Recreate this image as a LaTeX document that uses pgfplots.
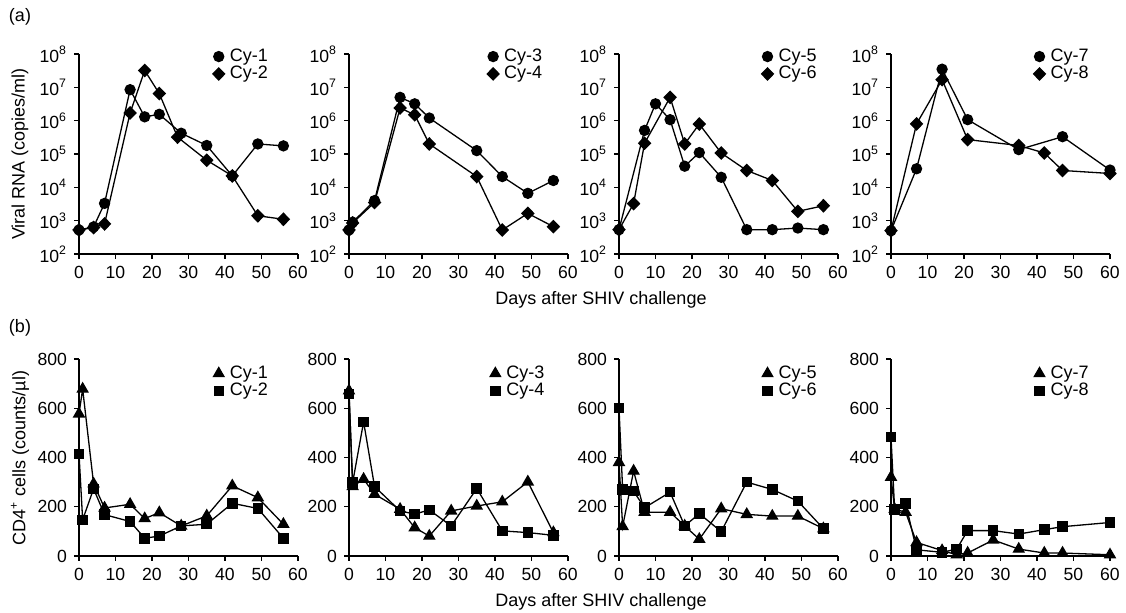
\documentclass[border=0pt]{standalone}
\usepackage{fontspec}
\setmainfont{Liberation Sans}
\usepackage{pgfplots}
\pgfplotsset{compat=1.18}

\newcommand{\lblfont}{\fontsize{9}{10.5}\selectfont}
\newcommand{\tckfont}{\fontsize{8.8}{10}\selectfont}

\pgfplotsset{
  every axis/.append style={
    scale only axis, width=109.5pt,
    axis lines*=left, xmin=0, xmax=60, xtick={0,10,...,60},
    tick align=outside, major tick length=2.5pt,
    axis line style={line width=0.6pt},
    tick style={line width=0.6pt, black},
    clip=false,
    tick label style={font=\tckfont},
    legend cell align=left,
    legend style={draw=none, fill=none, font=\lblfont, anchor=north west,
      row sep=-1.5pt, nodes={inner sep=1.2pt}},
  },
  /pgf/number format/assume math mode=true,
  every axis plot/.append style={black, line width=0.65pt},
  legend image code/.code={\draw[#1] plot coordinates {(0.1cm,0cm)}; \path (0cm,0cm) (0.24cm,0cm);},
  mkcirc/.style={mark=*, mark size=2.5pt},
  mkdiam/.style={mark=diamond*, mark size=3pt, mark options={xscale=1.3}},
  mktri/.style={mark=triangle*, mark size=3pt},
  mksq/.style={mark=square*, mark size=2.3pt},
  vrl/.style={height=100pt, ymin=1e2, ymax=1e8,
    ytick={1e2,1e3,1e4,1e5,1e6,1e7,1e8},
    yticklabels={10\textsuperscript{2},10\textsuperscript{3},10\textsuperscript{4},10\textsuperscript{5},10\textsuperscript{6},10\textsuperscript{7},10\textsuperscript{8}},
    yminorticks=false},
  cdf/.style={height=98.5pt, ymin=0, ymax=800, ytick={0,200,...,800}},
}

\begin{document}
\begin{tikzpicture}
\path[use as bounding box] (0pt,0pt) rectangle (563pt,306.5pt);

% (a) viral RNA
\begin{axis}[ymode=log, vrl, at={(39.5pt,179.5pt)}, anchor=south west, legend style={at={(0.58,1.06)}}]
\addplot[mkcirc] coordinates {(0,525)(4,650)(7,3300)(14,8.5e6)(18,1.3e6)(22,1.55e6)(28,4.2e5)(35,1.8e5)(42,2.2e4)(49,2e5)(56,1.75e5)};
\addlegendentry{Cy-1}
\addplot[mkdiam] coordinates {(0,525)(4,620)(7,800)(14,1.7e6)(18,3.2e7)(22,6.5e6)(27,3.2e5)(35,6.5e4)(42,2.2e4)(49,1400)(56,1100)};
\addlegendentry{Cy-2}
\end{axis}

\begin{axis}[ymode=log, vrl, at={(174.5pt,179.5pt)}, anchor=south west, legend style={at={(0.6,1.06)}}]
\addplot[mkcirc] coordinates {(0,525)(1,900)(7,4000)(14,5e6)(18,3.2e6)(22,1.2e6)(35,1.26e5)(42,2.1e4)(49,6600)(56,1.6e4)};
\addlegendentry{Cy-3}
\addplot[mkdiam] coordinates {(0,525)(1,850)(7,3500)(14,2.4e6)(18,1.5e6)(22,2e5)(35,2.1e4)(42,525)(49,1650)(56,660)};
\addlegendentry{Cy-4}
\end{axis}

\begin{axis}[ymode=log, vrl, at={(309.5pt,179.5pt)}, anchor=south west, legend style={at={(0.62,1.06)}}]
\addplot[mkcirc] coordinates {(0,537)(7,5.1e5)(10,3.2e6)(14,1.07e6)(18,4.3e4)(22,1.1e5)(28,2e4)(35,537)(42,537)(49,600)(56,537)};
\addlegendentry{Cy-5}
\addplot[mkdiam] coordinates {(0,537)(4,3240)(7,2.1e5)(14,5e6)(18,2e5)(22,7.9e5)(28,1.07e5)(35,3.2e4)(42,1.6e4)(49,1900)(56,2800)};
\addlegendentry{Cy-6}
\end{axis}

\begin{axis}[ymode=log, vrl, at={(445.5pt,179.5pt)}, anchor=south west, legend style={at={(0.62,1.06)}}]
\addplot[mkcirc] coordinates {(0,500)(7,3.6e4)(14,3.5e7)(21,1.07e6)(35,1.35e5)(47,3.3e5)(60,3.3e4)};
\addlegendentry{Cy-7}
\addplot[mkdiam] coordinates {(0,500)(7,8e5)(14,1.7e7)(21,2.7e5)(35,1.8e5)(42,1.07e5)(47,3.2e4)(60,2.6e4)};
\addlegendentry{Cy-8}
\end{axis}

% (b) CD4+ cells
\begin{axis}[cdf, at={(39.5pt,28.5pt)}, anchor=south west, legend style={at={(0.58,1.0)}}]
\addplot[mktri] coordinates {(0,577)(1,678)(4,293)(7,195)(14,210)(18,152)(22,176)(28,122)(35,163)(42,285)(49,237)(56,129)};
\addlegendentry{Cy-1}
\addplot[mksq] coordinates {(0,415)(1,147)(4,273)(7,168)(14,140)(18,72)(22,81)(28,122)(35,129)(42,214)(49,193)(56,72)};
\addlegendentry{Cy-2}
\end{axis}

\begin{axis}[cdf, at={(174.5pt,28.5pt)}, anchor=south west, legend style={at={(0.61,1.0)}}]
\addplot[mktri] coordinates {(0,671)(1,282)(4,312)(7,251)(14,190)(18,115)(22,81)(28,183)(35,203)(42,220)(49,301)(56,95)};
\addlegendentry{Cy-3}
\addplot[mksq] coordinates {(0,658)(1,298)(4,545)(7,282)(14,183)(18,170)(22,187)(28,122)(35,274)(42,102)(49,95)(56,84)};
\addlegendentry{Cy-4}
\end{axis}

\begin{axis}[cdf, at={(309.5pt,28.5pt)}, anchor=south west, legend style={at={(0.62,1.0)}}]
\addplot[mktri] coordinates {(0,380)(1,120)(4,345)(7,178)(14,178)(18,122)(22,68)(28,192)(35,169)(42,162)(49,162)(56,111)};
\addlegendentry{Cy-5}
\addplot[mksq] coordinates {(0,601)(1,270)(4,263)(7,196)(14,259)(18,122)(22,172)(28,99)(35,300)(42,270)(49,223)(56,111)};
\addlegendentry{Cy-6}
\end{axis}

\begin{axis}[cdf, at={(445.5pt,28.5pt)}, anchor=south west, legend style={at={(0.62,1.0)}}]
\addplot[mktri] coordinates {(0,320)(1,190)(4,178)(7,55)(14,22)(18,5)(21,12)(28,65)(35,28)(42,12)(47,12)(60,5)};
\addlegendentry{Cy-7}
\addplot[mksq] coordinates {(0,483)(1,188)(4,213)(7,25)(14,15)(18,28)(21,103)(28,103)(35,89)(42,107)(47,119)(60,136)};
\addlegendentry{Cy-8}
\end{axis}

% panel letters and shared labels
\node[font=\lblfont] at (10pt,298pt) {(a)};
\node[font=\lblfont] at (10pt,142.5pt) {(b)};
\node[font=\lblfont, rotate=90] at (10pt,229.5pt) {Viral RNA (copies/ml)};
\node[font=\lblfont, rotate=90] at (10pt,77.5pt) {CD4\textsuperscript{+} cells (counts/µl)};
\node[font=\lblfont] at (300.5pt,156.5pt) {Days after SHIV challenge};
\node[font=\lblfont] at (300.5pt,5.5pt) {Days after SHIV challenge};
\end{tikzpicture}
\end{document}
